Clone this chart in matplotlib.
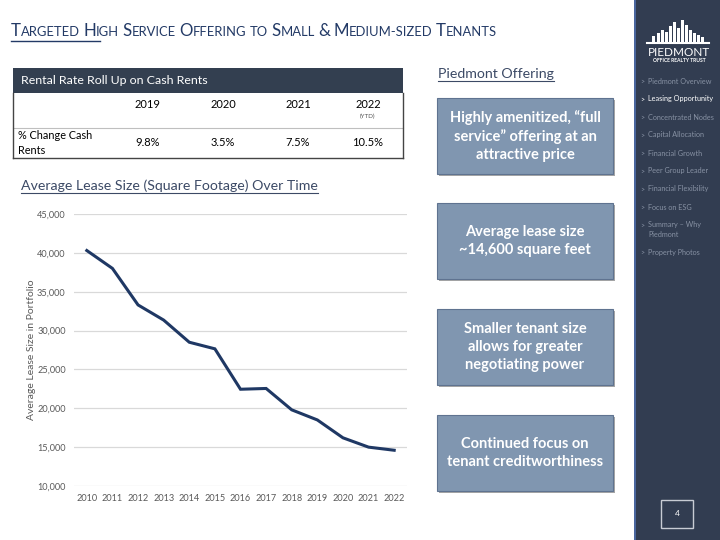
import matplotlib
matplotlib.use("Agg")
import matplotlib.pyplot as plt
from matplotlib.patches import Rectangle
from matplotlib.lines import Line2D
from matplotlib.ticker import FuncFormatter

plt.rcParams['font.family'] = ['Lato', 'DejaVu Sans']

# ---------------- data ----------------
years = [2010, 2011, 2012, 2013, 2014, 2015, 2016, 2017, 2018, 2019, 2020, 2021, 2022]
avg_lease_size = [40300, 38000, 33300, 31350, 28500, 27650, 22450, 22550, 19800, 18500, 16200, 15000, 14600]
yticks = [10000, 15000, 20000, 25000, 30000, 35000, 40000, 45000]

table_years = ["2019", "2020", "2021", "2022"]
table_values = ["9.8%", "3.5%", "7.5%", "10.5%"]
table_row_label = "% Change Cash\nRents"
table_title = "Rental Rate Roll Up on Cash Rents"

box_texts = [
    "Highly amenitized, \u201cfull\nservice\u201d offering at an\nattractive price",
    "Average lease size\n~14,600 square feet",
    "Smaller tenant size\nallows for greater\nnegotiating power",
    "Continued focus on\ntenant creditworthiness",
]
menu_items = ["Piedmont Overview", "Leasing Opportunity", "Concentrated Nodes",
              "Capital Allocation", "Financial Growth", "Peer Group Leader",
              "Financial Flexibility", "Focus on ESG", "Summary \u2013 Why\nPiedmont",
              "Property Photos"]
active_item = "Leasing Opportunity"

W, H = 720, 540
NAVY = "#233a66"
fig = plt.figure(figsize=(7.2, 5.4), dpi=100)
fig.patch.set_facecolor("white")

def fx(x): return x / W
def fy(y): return 1 - y / H

renderer = fig.canvas.get_renderer()

def add_rect(x0, y0, x1, y1, **kw):
    r = Rectangle((fx(x0), fy(y1)), fx(x1) - fx(x0), fy(y0) - fy(y1),
                  transform=fig.transFigure, **kw)
    fig.add_artist(r)
    return r

def add_line(x0, y0, x1, y1, **kw):
    fig.add_artist(Line2D([fx(x0), fx(x1)], [fy(y0), fy(y1)], transform=fig.transFigure, **kw))

# ---------------- title (small caps) ----------------
title_words = [("T", "ARGETED"), ("H", "IGH"), ("S", "ERVICE"), ("O", "FFERING"),
               ("", "TO"), ("S", "MALL"), ("&", ""), ("M", "EDIUM-SIZED"), ("T", "ENANTS")]
big, small = 12.2, 9.4
x = 11
ybase = fy(36)
space_px = 3.4
for cap, rest in title_words:
    if cap:
        t = fig.text(fx(x), ybase, cap, fontsize=big, color=NAVY, va="baseline", ha="left")
        x += t.get_window_extent(renderer).width
    if rest:
        t = fig.text(fx(x), ybase, rest, fontsize=small, color=NAVY, va="baseline", ha="left")
        x += t.get_window_extent(renderer).width
    x += space_px
add_line(11, 41, 100, 41, color=NAVY, lw=1.0)

# ---------------- table ----------------
TL, TR = 13, 403
add_rect(TL, 68, TR, 93, facecolor="#333f50", edgecolor="none")
fig.text(fx(21), fy(81), table_title, fontsize=8.9, color="white", va="center", ha="left")
col_x = [148, 223, 298, 368]
for cx, yr, val in zip(col_x, table_years, table_values):
    fig.text(fx(cx), fy(105), yr, fontsize=8, color="black", ha="center", va="center")
    fig.text(fx(cx), fy(143), val, fontsize=8, color="black", ha="center", va="center")
fig.text(fx(368), fy(116), "(YTD)", fontsize=4.5, color="#555555", ha="center", va="center")
fig.text(fx(18), fy(143), table_row_label, fontsize=7.8, color="black", ha="left", va="center",
         linespacing=1.35)
add_line(TL, 128, TR, 128, color="#bfbfbf", lw=0.8)
add_line(TL, 158, TR, 158, color="#444444", lw=1.0)
add_line(TL, 93, TL, 158, color="#444444", lw=1.0)
add_line(TR, 93, TR, 158, color="#444444", lw=1.0)

# ---------------- chart subtitle ----------------
st = fig.text(fx(21), fy(190), "Average Lease Size (Square Footage) Over Time", fontsize=10.2,
              color="#3c4a66", ha="left", va="baseline")
bb = st.get_window_extent(renderer)
add_line(21, 193, 21 + bb.width, 193, color="#3c4a66", lw=0.8)

# ---------------- line chart ----------------
ax = fig.add_axes([fx(74), fy(486), (407 - 74) / W, (486 - 214) / H])
ax.plot(years, avg_lease_size, color="#1f3864", lw=2.2, solid_joinstyle="miter")
ax.set_xlim(2009.5, 2022.5)
ax.set_ylim(10000, 45000)
ax.set_yticks(yticks)
ax.set_xticks(years)
ax.yaxis.set_major_formatter(FuncFormatter(lambda v, p: f"{int(v):,}"))
ax.grid(axis="y", color="#d9d9d9", lw=0.9)
ax.set_axisbelow(True)
for s in ax.spines.values():
    s.set_visible(False)
ax.tick_params(length=0, labelsize=6.6, labelcolor="#595959", pad=6)
ax.tick_params(axis="y", pad=6)
ax.set_ylabel("Average Lease Size in Portfolio", fontsize=7.5, color="#595959", labelpad=1)
ax.patch.set_alpha(0)

# ---------------- Piedmont Offering ----------------
pt = fig.text(fx(438), fy(78), "Piedmont Offering", fontsize=10.2, color="#3c4a66",
              ha="left", va="baseline")
bb = pt.get_window_extent(renderer)
add_line(438, 81, 438 + bb.width, 81, color="#3c4a66", lw=0.8)

box_y = [(98, 174), (203, 279), (309, 385), (415, 491)]
for (y0, y1), txt in zip(box_y, box_texts):
    add_rect(439, y0 + 2, 615, y1 + 2, facecolor="#6b6b6b", edgecolor="none", alpha=0.6)
    add_rect(437, y0, 613, y1, facecolor="#8096b0", edgecolor="#5f7390", lw=0.8)
    fig.text(fx(525), fy((y0 + y1) / 2), txt, fontsize=10.5, fontweight="bold", color="white",
             ha="center", va="center", linespacing=1.35)

# ---------------- sidebar ----------------
add_rect(634, 0, 720, 540, facecolor="#323d51", edgecolor="none")
add_line(634.5, 0, 634.5, 540, color="#4f6fae", lw=1.2)

# logo skyline
bld_x = [652, 657, 661, 665, 669, 673, 677, 681, 685, 689, 693, 697, 701]
bld_h = [6, 9, 12, 10, 16, 20, 14, 22, 17, 12, 9, 7, 5]
for bx, bh in zip(bld_x, bld_h):
    add_rect(bx, 42 - bh, bx + 3, 42, facecolor="white", edgecolor="none")
add_line(647, 43, 709, 43, color="white", lw=1.5)
fig.text(fx(679), fy(52), "PIEDMONT", fontsize=8.5, color="white", ha="center", va="center")
fig.text(fx(679), fy(60), "OFFICE REALTY TRUST", fontsize=3.6, color="white", ha="center",
         va="center", fontweight="bold")

yy = 81
for item in menu_items:
    col = "white" if item == active_item else "#8791a3"
    fig.text(fx(640), fy(yy), ">", fontsize=5, color=col, ha="left", va="center")
    fig.text(fx(648), fy(yy), item, fontsize=5.2, color=col, ha="left", va="top" if "\n" in item else "center",
             linespacing=1.35)
    if "\n" in item:
        fig.texts[-1].set_y(fy(yy - 3.5))
        yy += 27
    else:
        yy += 18

add_rect(661, 500, 693, 528, facecolor="none", edgecolor="#c8ccd4", lw=1.0)
fig.text(fx(677), fy(514), "4", fontsize=6, color="white", ha="center", va="center")

fig.savefig("out.png", dpi=100)
